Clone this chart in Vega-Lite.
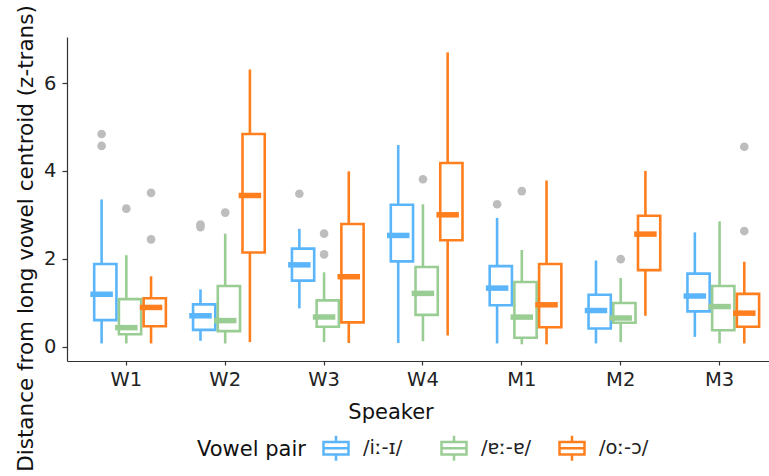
{
  "$schema": "https://vega.github.io/schema/vega-lite/v6.json",
  "autosize": {"type": "none"},
  "padding": {"left": 67, "top": 37, "right": 0, "bottom": 115},
  "width": 702,
  "height": 324,
  "background": "white",
  "config": {
    "view": {"stroke": null},
    "font": "DejaVu Sans",
    "axis": {"labelFont": "DejaVu Sans", "titleFont": "DejaVu Sans", "titleFontWeight": "normal", "domainColor": "#333333", "tickColor": "#333333", "labelColor": "#222222", "titleColor": "#111111", "grid": false, "domainWidth": 1.2, "tickWidth": 1.2},
    "legend": {"labelFont": "DejaVu Sans", "titleFont": "DejaVu Sans", "titleFontWeight": "normal"}
  },
  "datasets": {
    "boxes": [
      {"speaker": "W1", "pair": "/iː-ɪ/", "lo": 0.07, "q1": 0.60, "med": 1.19, "q3": 1.88, "hi": 3.35},
      {"speaker": "W1", "pair": "/ɐː-ɐ/", "lo": 0.07, "q1": 0.28, "med": 0.43, "q3": 1.08, "hi": 2.08},
      {"speaker": "W1", "pair": "/oː-ɔ/", "lo": 0.07, "q1": 0.46, "med": 0.89, "q3": 1.10, "hi": 1.60},
      {"speaker": "W2", "pair": "/iː-ɪ/", "lo": 0.13, "q1": 0.38, "med": 0.70, "q3": 0.96, "hi": 1.30},
      {"speaker": "W2", "pair": "/ɐː-ɐ/", "lo": 0.07, "q1": 0.35, "med": 0.59, "q3": 1.38, "hi": 2.57},
      {"speaker": "W2", "pair": "/oː-ɔ/", "lo": 0.10, "q1": 2.14, "med": 3.44, "q3": 4.84, "hi": 6.31},
      {"speaker": "W3", "pair": "/iː-ɪ/", "lo": 0.87, "q1": 1.50, "med": 1.86, "q3": 2.23, "hi": 2.68},
      {"speaker": "W3", "pair": "/ɐː-ɐ/", "lo": 0.10, "q1": 0.45, "med": 0.67, "q3": 1.05, "hi": 1.69},
      {"speaker": "W3", "pair": "/oː-ɔ/", "lo": 0.08, "q1": 0.55, "med": 1.59, "q3": 2.79, "hi": 3.99},
      {"speaker": "W4", "pair": "/iː-ɪ/", "lo": 0.08, "q1": 1.94, "med": 2.53, "q3": 3.23, "hi": 4.59},
      {"speaker": "W4", "pair": "/ɐː-ɐ/", "lo": 0.12, "q1": 0.72, "med": 1.21, "q3": 1.81, "hi": 3.24},
      {"speaker": "W4", "pair": "/oː-ɔ/", "lo": 0.25, "q1": 2.42, "med": 3.00, "q3": 4.18, "hi": 6.70},
      {"speaker": "M1", "pair": "/iː-ɪ/", "lo": 0.07, "q1": 0.94, "med": 1.33, "q3": 1.83, "hi": 2.93},
      {"speaker": "M1", "pair": "/ɐː-ɐ/", "lo": 0.05, "q1": 0.20, "med": 0.67, "q3": 1.47, "hi": 2.20},
      {"speaker": "M1", "pair": "/oː-ɔ/", "lo": 0.05, "q1": 0.44, "med": 0.95, "q3": 1.88, "hi": 3.78},
      {"speaker": "M2", "pair": "/iː-ɪ/", "lo": 0.07, "q1": 0.41, "med": 0.82, "q3": 1.18, "hi": 1.96},
      {"speaker": "M2", "pair": "/ɐː-ɐ/", "lo": 0.10, "q1": 0.54, "med": 0.65, "q3": 0.99, "hi": 1.56},
      {"speaker": "M2", "pair": "/oː-ɔ/", "lo": 0.70, "q1": 1.74, "med": 2.56, "q3": 2.98, "hi": 4.00},
      {"speaker": "M3", "pair": "/iː-ɪ/", "lo": 0.22, "q1": 0.80, "med": 1.15, "q3": 1.66, "hi": 2.60},
      {"speaker": "M3", "pair": "/ɐː-ɐ/", "lo": 0.07, "q1": 0.37, "med": 0.91, "q3": 1.38, "hi": 2.85},
      {"speaker": "M3", "pair": "/oː-ɔ/", "lo": 0.07, "q1": 0.45, "med": 0.76, "q3": 1.20, "hi": 1.93}
    ],
    "outliers": [
      {"speaker": "W1", "pair": "/iː-ɪ/", "value": 4.84},
      {"speaker": "W1", "pair": "/iː-ɪ/", "value": 4.57},
      {"speaker": "W1", "pair": "/ɐː-ɐ/", "value": 3.14},
      {"speaker": "W1", "pair": "/oː-ɔ/", "value": 3.50},
      {"speaker": "W1", "pair": "/oː-ɔ/", "value": 2.44},
      {"speaker": "W2", "pair": "/iː-ɪ/", "value": 2.72},
      {"speaker": "W2", "pair": "/iː-ɪ/", "value": 2.78},
      {"speaker": "W2", "pair": "/ɐː-ɐ/", "value": 3.05},
      {"speaker": "W3", "pair": "/iː-ɪ/", "value": 3.48},
      {"speaker": "W3", "pair": "/ɐː-ɐ/", "value": 2.57},
      {"speaker": "W3", "pair": "/ɐː-ɐ/", "value": 2.10},
      {"speaker": "W4", "pair": "/ɐː-ɐ/", "value": 3.81},
      {"speaker": "M1", "pair": "/iː-ɪ/", "value": 3.24},
      {"speaker": "M1", "pair": "/ɐː-ɐ/", "value": 3.54},
      {"speaker": "M2", "pair": "/ɐː-ɐ/", "value": 1.99},
      {"speaker": "M3", "pair": "/oː-ɔ/", "value": 4.55},
      {"speaker": "M3", "pair": "/oː-ɔ/", "value": 2.63}
    ]
  },
  "encoding": {
    "x": {
      "field": "speaker", "type": "nominal", "sort": ["W1", "W2", "W3", "W4", "M1", "M2", "M3"],
      "scale": {"paddingInner": 0, "paddingOuter": 0.05, "align": 1},
      "axis": {"title": "Speaker", "labelAngle": 0, "labelFontSize": 19.5, "tickSize": 4, "labelPadding": 5, "titleFontSize": 21, "titleX": 323.5, "titleY": 57, "titleBaseline": "alphabetic", "titleAlign": "center", "titleAnchor": null}
    },
    "xOffset": {
      "field": "pair", "type": "nominal", "sort": ["/iː-ɪ/", "/ɐː-ɐ/", "/oː-ɔ/"],
      "scale": {"paddingInner": 0, "paddingOuter": 0.5}
    }
  },
  "layer": [
    {
      "data": {"name": "boxes"},
      "mark": {"type": "rule", "strokeWidth": 2.6},
      "encoding": {
        "y": {"field": "lo", "type": "quantitative", "scale": {"domain": [-0.33, 7.05], "nice": false, "zero": false},
          "axis": {"title": "Distance from long vowel centroid (z-trans)", "values": [0, 2, 4, 6], "labelFontSize": 19.5, "tickSize": 5, "labelPadding": 6, "titleFontSize": 21.5, "titleX": -35, "titleY": 201, "titleAlign": "center", "titleBaseline": "alphabetic", "titleAnchor": null}},
        "y2": {"field": "q1"},
        "color": {
          "field": "pair", "type": "nominal", "sort": ["/iː-ɪ/", "/ɐː-ɐ/", "/oː-ɔ/"],
          "scale": {"domain": ["/iː-ɪ/", "/ɐː-ɐ/", "/oː-ɔ/"], "range": ["#5BB5FA", "#9ACD94", "#FF7F1F"]},
          "legend": {
            "title": "Vowel pair", "orient": "none", "direction": "horizontal", "legendX": 130, "legendY": 397,
            "titleOrient": "left", "titleFontSize": 21, "titleColor": "#111111", "titlePadding": 16, "titleBaseline": "middle", "titleAnchor": "middle",
            "labelFontSize": 19.5, "labelColor": "#222222", "labelOffset": 13,
            "symbolType": "M0,-1V-0.5M-1,-0.5H1V0.5H-1ZM-1,0H1M0,0.5V1",
            "symbolSize": 625, "symbolStrokeWidth": 2.5, "symbolFillColor": "transparent",
            "columnPadding": 22, "gridAlign": "all",
            "encode": {"symbols": {"update": {"fill": {"value": "transparent"}, "fillOpacity": {"value": 0}, "stroke": {"scale": "color", "field": "value"}, "strokeWidth": {"value": 2.5}}}}
          }
        }
      }
    },
    {
      "data": {"name": "boxes"},
      "mark": {"type": "rule", "strokeWidth": 2.6},
      "encoding": {
        "y": {"field": "q3", "type": "quantitative"},
        "y2": {"field": "hi"},
        "color": {"field": "pair", "type": "nominal"}
      }
    },
    {
      "data": {"name": "boxes"},
      "mark": {"type": "bar", "filled": false, "strokeWidth": 2.6, "width": {"band": 0.9}},
      "encoding": {
        "y": {"field": "q1", "type": "quantitative"},
        "y2": {"field": "q3"},
        "color": {"field": "pair", "type": "nominal"}
      }
    },
    {
      "data": {"name": "boxes"},
      "mark": {"type": "tick", "thickness": 5.5, "size": 22.5, "orient": "horizontal", "opacity": 1},
      "encoding": {
        "y": {"field": "med", "type": "quantitative"},
        "fill": {"field": "pair", "type": "nominal", "legend": null,
          "scale": {"domain": ["/iː-ɪ/", "/ɐː-ɐ/", "/oː-ɔ/"], "range": ["#5BB5FA", "#9ACD94", "#FF7F1F"]}}
      }
    },
    {
      "data": {"name": "outliers"},
      "mark": {"type": "point", "filled": true, "size": 75, "opacity": 1},
      "encoding": {
        "y": {"field": "value", "type": "quantitative"},
        "color": {"value": "#BDBDBD"}
      }
    }
  ]
}
